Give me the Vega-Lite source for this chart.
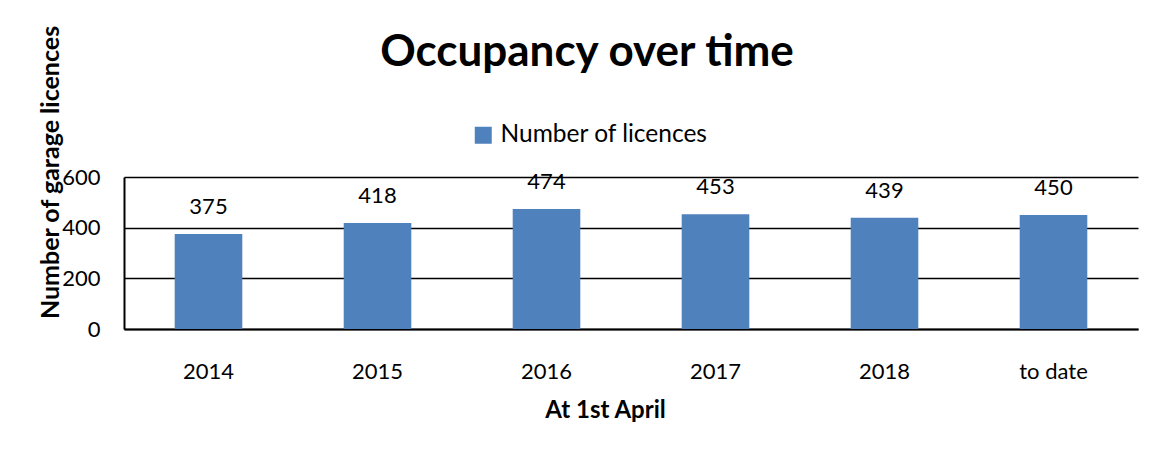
{
  "$schema": "https://vega.github.io/schema/vega-lite/v6.json",
  "width": 1014,
  "height": 152,
  "autosize": {"type": "none"},
  "padding": {"left": 124, "top": 177, "right": 24, "bottom": 126},
  "background": "white",
  "title": {
    "text": "Occupancy over time",
    "anchor": "middle",
    "dx": -44,
    "dy": 60,
    "fontSize": 44,
    "font": "Lato",
    "fontWeight": "bold",
    "color": "black",
    "offset": 10
  },
  "data": {
    "values": [
      {"year": "2014", "licences": 375, "series": "Number of licences"},
      {"year": "2015", "licences": 418, "series": "Number of licences"},
      {"year": "2016", "licences": 474, "series": "Number of licences"},
      {"year": "2017", "licences": 453, "series": "Number of licences"},
      {"year": "2018", "licences": 439, "series": "Number of licences"},
      {"year": "to date", "licences": 450, "series": "Number of licences"}
    ]
  },
  "encoding": {
    "x": {
      "field": "year",
      "type": "nominal",
      "sort": null,
      "scale": {"paddingInner": 0.6, "paddingOuter": 0.3},
      "axis": {
        "title": "At 1st April",
        "titleFont": "Lato",
        "titleFontSize": 24,
        "titleFontWeight": "bold",
        "titleColor": "black",
        "titleBaseline": "middle",
        "titleAlign": "center",
        "titleX": 481,
        "titleY": 81,
        "labelAngle": 0,
        "labelFont": "Lato",
        "labelFontSize": 22,
        "labelColor": "black",
        "labelBaseline": "middle",
        "labelPadding": 42,
        "ticks": false,
        "tickSize": 0,
        "domainColor": "black",
        "domainWidth": 2,
        "grid": false
      }
    },
    "y": {
      "field": "licences",
      "type": "quantitative",
      "scale": {"domain": [0, 600]},
      "axis": {
        "values": [0, 200, 400, 600],
        "title": "Number of garage licences",
        "titleFont": "Lato",
        "titleFontSize": 25,
        "titleFontWeight": "bold",
        "titleColor": "black",
        "titleAlign": "center",
        "titleBaseline": "middle",
        "titleAngle": 270,
        "titleX": -74,
        "titleY": -5,
        "labelFont": "Lato",
        "labelFontSize": 22,
        "labelColor": "black",
        "labelPadding": 24,
        "ticks": false,
        "tickSize": 0,
        "domainColor": "black",
        "domainWidth": 2,
        "grid": true,
        "gridColor": "black",
        "gridWidth": 1.6
      }
    }
  },
  "layer": [
    {
      "mark": {"type": "bar", "color": "#4F81BD"},
      "encoding": {
        "color": {
          "field": "series",
          "type": "nominal",
          "scale": {"range": ["#4F81BD"]},
          "legend": {
            "title": null,
            "orient": "none",
            "legendX": 347,
            "legendY": -54,
            "padding": 0,
            "symbolType": "square",
            "symbolSize": 289,
            "symbolStrokeWidth": 0,
            "symbolFillColor": "#4F81BD",
            "symbolOpacity": 1,
            "labelFont": "Lato",
            "labelFontSize": 24.5,
            "labelLimit": 400,
            "labelColor": "black",
            "labelOffset": 5
          }
        }
      }
    },
    {
      "mark": {
        "type": "text",
        "baseline": "alphabetic",
        "dy": -20,
        "font": "Lato",
        "fontSize": 22,
        "color": "black"
      },
      "encoding": {"text": {"field": "licences", "type": "quantitative"}}
    }
  ],
  "config": {"view": {"stroke": null}}
}
